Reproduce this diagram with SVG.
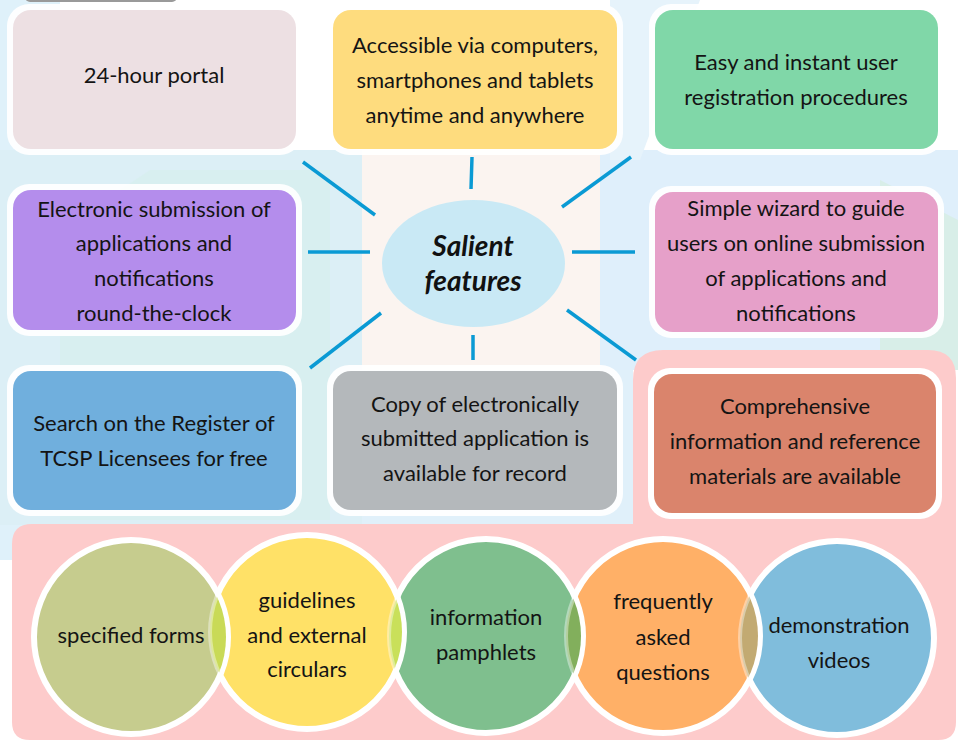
<svg xmlns="http://www.w3.org/2000/svg" width="958" height="742" viewBox="0 0 958 742">
<style>
.t{font-family:Lato,"Open Sans","Liberation Sans",sans-serif;font-size:22px;fill:#141414;text-anchor:middle}
.h{font-family:Lato,"Open Sans","Liberation Sans",sans-serif;font-size:28px;font-weight:bold;font-style:italic;fill:#111;text-anchor:middle}
.frame{fill:#fff;fill-opacity:0.92}
.conn{stroke:#0A9AD4;stroke-width:3.5;fill:none}
.ring{stroke:#fff;stroke-width:6}
.faint{fill:none;stroke:#fff;stroke-opacity:0.4;stroke-width:4}
</style>
<defs>
<clipPath id="k1"><circle cx="131" cy="637" r="95"/></clipPath>
<clipPath id="k2"><circle cx="307" cy="632" r="95"/></clipPath>
<clipPath id="k3"><circle cx="486" cy="636" r="95"/></clipPath>
<clipPath id="k4"><circle cx="663" cy="636" r="95"/></clipPath>
</defs>
<g id="background">
<rect width="958" height="742" fill="#fff"/>
<polygon points="0,0 60,0 60,560 0,560" fill="#DFF1FA"/>
<polygon points="0,150 362,150 362,525 0,525" fill="#DCEFF6"/>
<polygon points="60,230 150,170 330,170 330,520 60,520" fill="#D6EEEC" fill-opacity="0.6"/>
<rect x="362" y="150" width="240" height="220" fill="#FBF4F0"/>
<polygon points="362,370 633,370 633,525 362,525" fill="#E0F0FA"/>
<polygon points="600,150 958,150 958,370 600,370" fill="#DFEFFB"/>
<polygon points="610,0 700,0 640,160 610,160" fill="#E6F3FB"/>
<polygon points="880,180 958,220 958,370 880,370" fill="#D8EEE8"/>
<rect x="25" y="-10" width="152" height="12" rx="5" fill="#9a9a9a"/>
</g>
<path id="panel" d="M32 524 L633 524 L633 380 Q633 350 663 350 L928 350 Q956 350 956 378 L956 722 Q956 740 938 740 L30 740 Q12 740 12 722 L12 544 Q12 524 32 524 Z" fill="#FDCBCB"/>
<g id="connectors">
<line class="conn" x1="303" y1="162" x2="375" y2="215"/>
<line class="conn" x1="472" y1="157" x2="471" y2="189"/>
<line class="conn" x1="631" y1="157" x2="562" y2="207"/>
<line class="conn" x1="308" y1="252" x2="370" y2="252"/>
<line class="conn" x1="572" y1="252" x2="635" y2="252"/>
<line class="conn" x1="381" y1="313" x2="310" y2="368"/>
<line class="conn" x1="473" y1="335" x2="473" y2="360"/>
<line class="conn" x1="567" y1="310" x2="636" y2="360"/>
</g>
<g id="n1">
<rect class="frame" x="7" y="4" width="295" height="151" rx="22"/>
<rect x="13" y="10" width="283" height="139" rx="18" fill="#EDE0E3"/>
<text class="t" x="154" y="83">24-hour portal</text>
</g>
<g id="n2">
<rect class="frame" x="327" y="4" width="296" height="151" rx="22"/>
<rect x="333" y="10" width="284" height="139" rx="18" fill="#FEDC7E"/>
<text class="t" x="475" y="53">Accessible via computers,</text>
<text class="t" x="475" y="88">smartphones and tablets</text>
<text class="t" x="475" y="123">anytime and anywhere</text>
</g>
<g id="n3">
<rect class="frame" x="649" y="4" width="295" height="151" rx="22"/>
<rect x="655" y="10" width="283" height="139" rx="18" fill="#80D7A8"/>
<text class="t" x="796" y="70">Easy and instant user</text>
<text class="t" x="796" y="105">registration procedures</text>
</g>
<g id="n4">
<rect class="frame" x="7" y="184" width="295" height="152" rx="22"/>
<rect x="13" y="190" width="283" height="140" rx="18" fill="#B48DEC"/>
<text class="t" x="154" y="217">Electronic submission of</text>
<text class="t" x="154" y="251">applications and</text>
<text class="t" x="154" y="286">notifications</text>
<text class="t" x="154" y="321">round-the-clock</text>
</g>
<g id="n5">
<rect class="frame" x="649" y="186" width="295" height="152" rx="22"/>
<rect x="655" y="192" width="283" height="140" rx="18" fill="#E6A0C9"/>
<text class="t" x="796" y="216">Simple wizard to guide</text>
<text class="t" x="796" y="251">users on online submission</text>
<text class="t" x="796" y="286">of applications and</text>
<text class="t" x="796" y="321">notifications</text>
</g>
<g id="center">
<ellipse cx="473.5" cy="263.5" rx="91.5" ry="63.5" fill="#C9E9F5"/>
<text class="h" x="473" y="256">Salient</text>
<text class="h" x="473" y="291">features</text>
</g>
<g id="n6">
<rect class="frame" x="7" y="365" width="295" height="151" rx="22"/>
<rect x="13" y="371" width="283" height="139" rx="18" fill="#70AFDD"/>
<text class="t" x="154" y="431">Search on the Register of</text>
<text class="t" x="154" y="466">TCSP Licensees for free</text>
</g>
<g id="n7">
<rect class="frame" x="327" y="365" width="296" height="151" rx="22"/>
<rect x="333" y="371" width="284" height="139" rx="18" fill="#B4B8BB"/>
<text class="t" x="475" y="412">Copy of electronically</text>
<text class="t" x="475" y="446">submitted application is</text>
<text class="t" x="475" y="481">available for record</text>
</g>
<g id="n8">
<rect x="648" y="368" width="294" height="151" rx="22" fill="#fff"/>
<rect x="654" y="374" width="282" height="139" rx="18" fill="#DA846C"/>
<text class="t" x="795" y="414">Comprehensive</text>
<text class="t" x="795" y="449">information and reference</text>
<text class="t" x="795" y="484">materials are available</text>
</g>
<g id="circles">
<circle class="ring" cx="837" cy="638" r="97" fill="#80BDDC"/>
<circle class="ring" cx="663" cy="636" r="97" fill="#FFB067"/>
<circle class="ring" cx="486" cy="636" r="97" fill="#7FBF8E"/>
<circle class="ring" cx="307" cy="632" r="97" fill="#FFE167"/>
<circle class="ring" cx="131" cy="637" r="97" fill="#C6CC8E"/>
<g clip-path="url(#k1)"><circle cx="307" cy="632" r="97" fill="#C9DA57"/><circle class="faint" cx="307" cy="632" r="97"/></g>
<g clip-path="url(#k2)"><circle cx="486" cy="636" r="97" fill="#C9E05A"/><circle class="faint" cx="486" cy="636" r="97"/></g>
<g clip-path="url(#k3)"><circle cx="663" cy="636" r="97" fill="#82AF5C"/><circle class="faint" cx="663" cy="636" r="97"/></g>
<g clip-path="url(#k4)"><circle cx="837" cy="638" r="97" fill="#C2AA72"/><circle class="faint" cx="837" cy="638" r="97"/></g>
</g>
<g id="c1"><text class="t" x="131" y="643">specified forms</text></g>
<g id="c2">
<text class="t" x="307" y="608">guidelines</text>
<text class="t" x="307" y="643">and external</text>
<text class="t" x="307" y="677">circulars</text>
</g>
<g id="c3">
<text class="t" x="486" y="625">information</text>
<text class="t" x="486" y="660">pamphlets</text>
</g>
<g id="c4">
<text class="t" x="663" y="609">frequently</text>
<text class="t" x="663" y="645">asked</text>
<text class="t" x="663" y="680">questions</text>
</g>
<g id="c5">
<text class="t" x="839" y="633">demonstration</text>
<text class="t" x="839" y="668">videos</text>
</g>
</svg>
